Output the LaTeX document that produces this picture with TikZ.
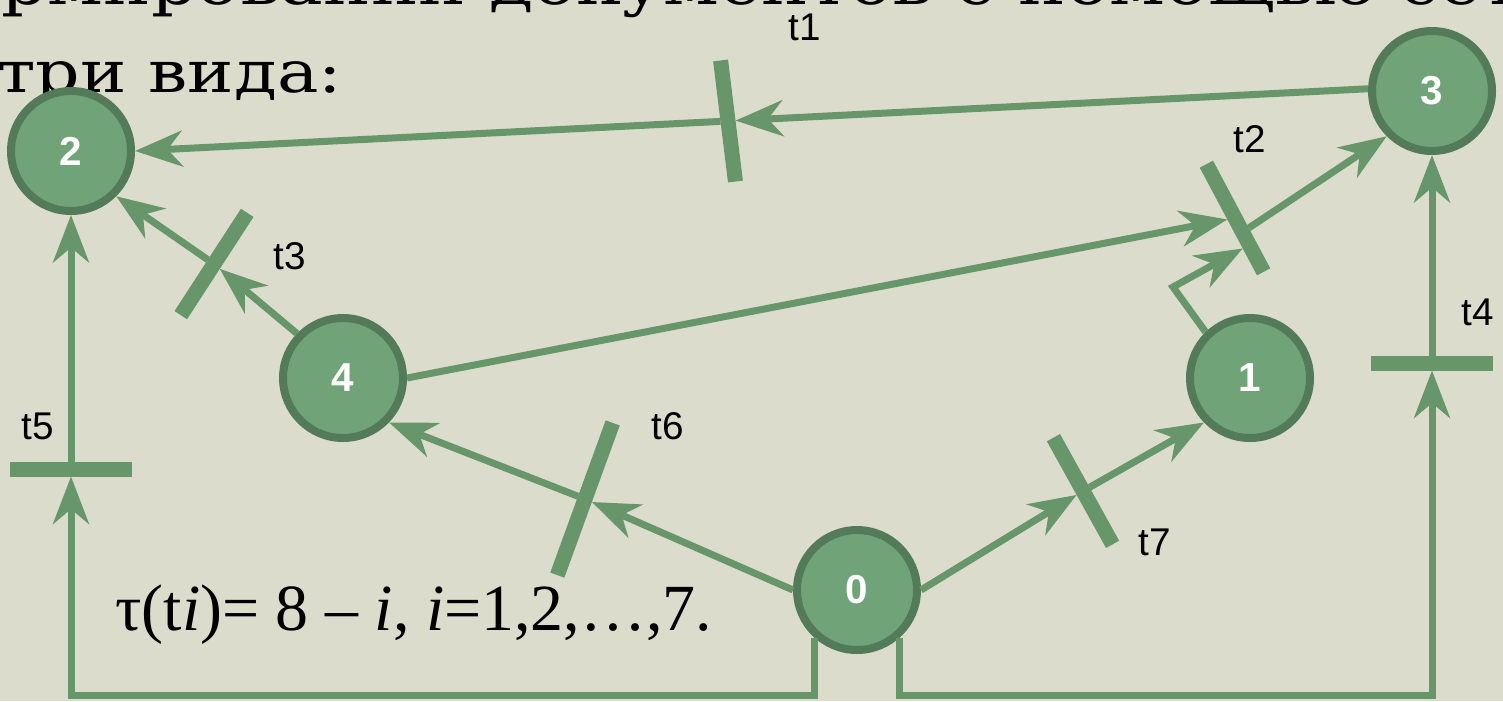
\documentclass[tikz,border=0pt]{standalone}
\usepackage{fontspec}
\setmainfont{Liberation Serif}
\newfontfamily\labelfont{Liberation Sans}
\newfontfamily\slabfont[FakeStretch=1.2]{DejaVu Serif}
\usetikzlibrary{arrows.meta,calc}
\definecolor{paper}{RGB}{220,220,204}
\definecolor{arcgreen}{RGB}{102,150,106}
\definecolor{placegreen}{RGB}{112,164,120}
\definecolor{placeedge}{RGB}{83,122,89}

\begin{document}
\begin{tikzpicture}[x=0.02cm,y=-0.02cm,
  place/.style={circle,fill=placegreen,draw=placeedge,line width=0.16cm,minimum size=2.4cm,inner sep=0pt,text=white,font=\labelfont\bfseries\fontsize{23}{27}\selectfont},
  tbar/.style={rectangle,fill=arcgreen,minimum width=2.44cm,minimum height=0.3cm,inner sep=0pt,outer sep=0pt},
  flow/.style={draw=arcgreen,line width=0.14cm,-{Stealth[length=0.95cm,width=0.72cm,inset=0.3cm]}},
  tlabel/.style={font=\labelfont\fontsize{22}{26}\selectfont}]
\useasboundingbox (0,0) rectangle (1503,701);
\fill[paper] (0,0) rectangle (1503,701);
\clip (0,0) rectangle (1503,701);
\node[anchor=base west,inner sep=0pt,font=\slabfont\fontsize{34}{40}\selectfont] (head) at (-98,4) {формировании документов с помощью сети};
\node[anchor=base west,inner sep=0pt,font=\slabfont\fontsize{33}{38}\selectfont] (kinds) at (-3,92) {три вида:};
\node[place] (n0) at (857,590) {0};
\node[place] (n1) at (1250,378) {1};
\node[place] (n2) at (71,151) {2};
\node[place] (n3) at (1432,91) {3};
\node[place] (n4) at (343,378) {4};
\node[tbar,rotate=97] (t1) at (728,121) {};
\node[tbar,rotate=-62] (t2) at (1235,218) {};
\node[tbar,rotate=57] (t3) at (214,264) {};
\node[tbar] (t4) at (1432,363) {};
\node[tbar] (t5) at (71,469) {};
\node[tbar,rotate=70,minimum width=3.24cm] (t6) at (585,499) {};
\node[tbar,rotate=-61] (t7) at (1083,491) {};
\node[tlabel] (l1) at (805,27) {t1};
\node[tlabel] (l2) at (1250,139) {t2};
\node[tlabel] (l3) at (290,256) {t3};
\node[tlabel] (l4) at (1478,312) {t4};
\node[tlabel] (l5) at (38,426) {t5};
\node[tlabel] (l6) at (668,426) {t6};
\node[tlabel] (l7) at (1155,542) {t7};
\node[anchor=base west,inner sep=0pt,font=\fontsize{37.5}{42}\selectfont] (tau) at (115,630) {τ(t\textit{i})= 8 – \textit{i}, \textit{i}=1,2,…,7.};
\coordinate (k1) at (1173,287);
\coordinate (b4) at (1432,695);
\coordinate (b5) at (71,695);
\draw[flow] (n3.178) -- (t1);
\draw[flow] (t1) -- (n2.east);
\draw[flow] (n4.east) -- (t2);
\draw[flow] (n1.134) -- (k1) -- ($(t2.south)!0.5!(t2.south east)$);
\draw[flow] ($(t2.north)!0.25!(t2.north east)$) -- (n3.225);
\draw[flow] (n4.136) -- (t3);
\draw[flow] (t3) -- (n2.-45);
\draw[flow] (n0.-48) |- (b4) -- (t4);
\draw[flow] (t4) -- (n3.south);
\draw[flow] (n0.228) |- (b5) -- (t5);
\draw[flow] (t5) -- (n2.south);
\draw[flow] (n0.west) -- (t6);
\draw[flow] (t6) -- (n4.-44);
\draw[flow] (n0.east) -- (t7);
\draw[flow] (t7) -- (n1.224);
\end{tikzpicture}
\end{document}
